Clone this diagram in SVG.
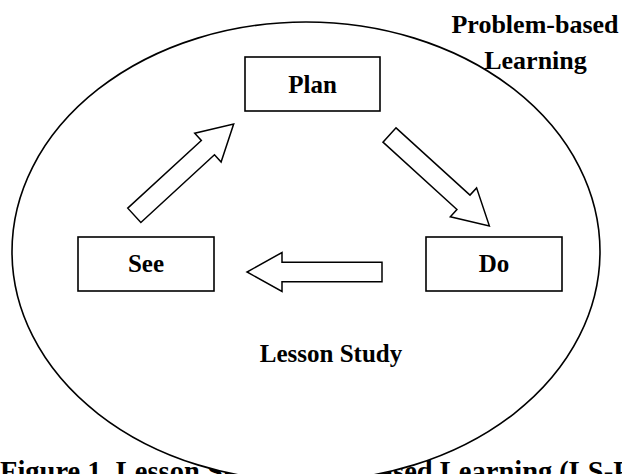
<svg xmlns="http://www.w3.org/2000/svg" width="622" height="474" viewBox="0 0 622 474">
<style>
.t{font-family:"Liberation Serif","Times New Roman",serif;font-weight:bold;fill:#000}
.box{fill:#fff;stroke:#000;stroke-width:1.6}
.arr{fill:#fff;stroke:#000;stroke-width:1.5;stroke-linejoin:miter}
</style>
<defs>
<path id="blockArrow" d="M0,-9.7 L100,-9.7 L100,-19.5 L135,0 L100,19.5 L100,9.7 L0,9.7 Z"/>
</defs>
<rect width="622" height="474" fill="#fff"/>
<g id="caption">
<text class="t" x="0" y="481" font-size="28.5">Figure 1. Lesson Study</text>
<text class="t" x="363" y="481" font-size="28.5">based Learning (LS-PBL)</text>
</g>
<g id="lesson-study">
<ellipse cx="306" cy="251.5" rx="294" ry="229.5" fill="#fff" stroke="#000" stroke-width="1.6"/>
<text class="t" x="331" y="362" font-size="25" text-anchor="middle">Lesson Study</text>
</g>
<g id="pbl">
<text class="t" x="535" y="33" font-size="26" text-anchor="middle">Problem-based</text>
<text class="t" x="535.5" y="69" font-size="26" text-anchor="middle">Learning</text>
</g>
<g id="plan">
<rect class="box" x="245" y="57" width="135" height="54"/>
<text class="t" x="312.5" y="93" font-size="25" text-anchor="middle">Plan</text>
</g>
<g id="do">
<rect class="box" x="426" y="237" width="136" height="54"/>
<text class="t" x="494" y="272" font-size="25" text-anchor="middle">Do</text>
</g>
<g id="see">
<rect class="box" x="78" y="237" width="136" height="54"/>
<text class="t" x="146" y="272" font-size="25" text-anchor="middle">See</text>
</g>
<g id="connectors">
<use href="#blockArrow" class="arr" transform="translate(389.5,135) rotate(42.3)"/>
<use href="#blockArrow" class="arr" transform="translate(382,272) rotate(180)"/>
<use href="#blockArrow" class="arr" transform="translate(134.3,215.3) rotate(-42.6)"/>
</g>
</svg>
